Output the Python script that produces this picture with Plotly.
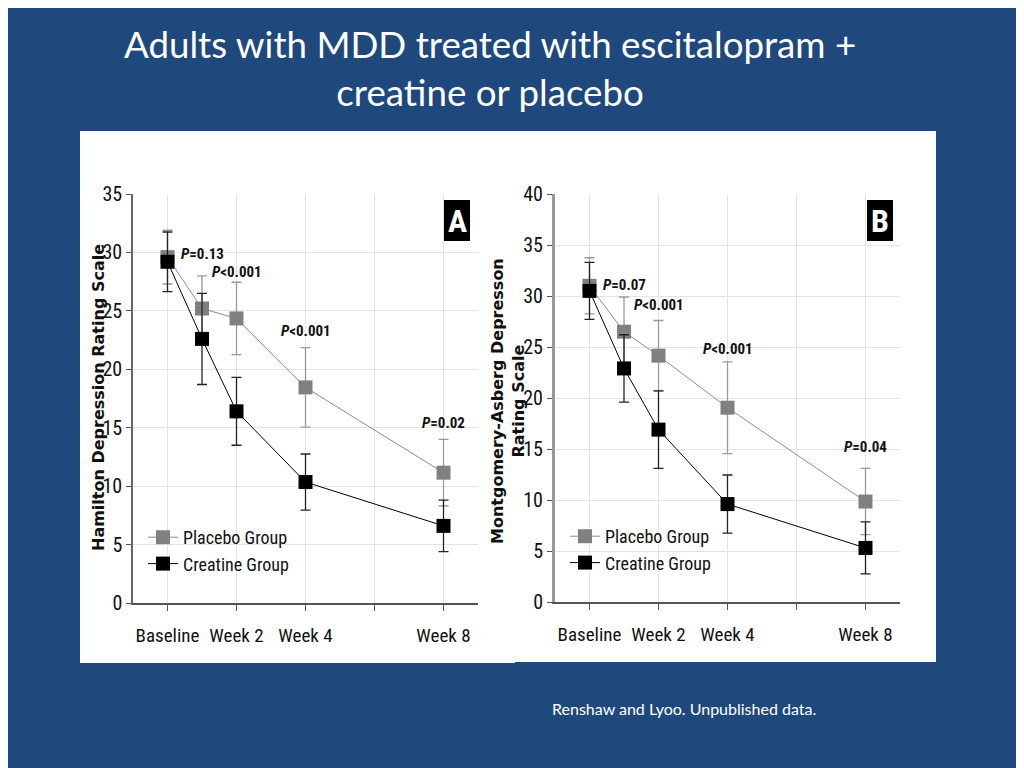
import plotly.graph_objects as go

# ---- data ----
weeks = [0, 1, 2, 4, 8]
tick_weeks = [0, 2, 4, 6, 8]
tick_labels = ['Baseline', 'Week 2', 'Week 4', '', 'Week 8']

# Panel A: Hamilton Depression Rating Scale
ham_placebo = [29.6, 25.2, 24.35, 18.45, 11.15]
ham_placebo_sd = [2.3, 2.8, 3.1, 3.4, 2.85]
ham_creatine = [29.2, 22.6, 16.4, 10.35, 6.6]
ham_creatine_sd = [2.55, 3.9, 2.9, 2.4, 2.2]
ham_p_weeks = [1, 2, 4, 8]
ham_p_text = ['=0.13', '<0.001', '<0.001', '=0.02']
ham_p_y = [29.9, 28.3, 23.3, 15.4]

# Panel B: Montgomery-Asberg Depression Rating Scale
mad_placebo = [31.0, 26.5, 24.15, 19.05, 9.85]
mad_placebo_sd = [2.75, 3.4, 3.45, 4.5, 3.25]
mad_creatine = [30.5, 22.9, 16.9, 9.6, 5.3]
mad_creatine_sd = [2.8, 3.3, 3.8, 2.85, 2.55]
mad_p_weeks = [1, 2, 4, 8]
mad_p_text = ['=0.07', '<0.001', '<0.001', '=0.04']
mad_p_y = [31.1, 29.1, 24.8, 15.2]

BLUE = '#1F497D'
NARROW = 'Roboto Condensed, Liberation Sans, sans-serif'
W, H = 1024, 768
OFF = 8  # the page body adds an 8px margin


def px_x(v):
    return (v - OFF) / W


def px_y(v):
    return 1 - (v - OFF) / H


fig = go.Figure()


def add_group(xa, ya, placebo, p_sd, creatine, c_sd, legend):
    fig.add_trace(go.Scatter(
        x=weeks, y=placebo, name='Placebo Group', xaxis=xa, yaxis=ya, legend=legend,
        mode='lines+markers',
        line=dict(color='#8c8c8c', width=1),
        marker=dict(symbol='square', size=14, color='#808080'),
        error_y=dict(type='data', array=p_sd, visible=True, color='#9a9a9a',
                     thickness=1.3, width=5),
    ))
    fig.add_trace(go.Scatter(
        x=weeks, y=creatine, name='Creatine Group', xaxis=xa, yaxis=ya, legend=legend,
        mode='lines+markers',
        line=dict(color='#000000', width=1),
        marker=dict(symbol='square', size=14, color='#000000'),
        error_y=dict(type='data', array=c_sd, visible=True, color='#222222',
                     thickness=1.3, width=5),
    ))


add_group('x', 'y', ham_placebo, ham_placebo_sd, ham_creatine, ham_creatine_sd, 'legend')
add_group('x2', 'y2', mad_placebo, mad_placebo_sd, mad_creatine, mad_creatine_sd, 'legend2')

xaxis_common = dict(
    range=[-1, 9], tickvals=tick_weeks, ticktext=tick_labels, tickangle=0, automargin=False,
    showgrid=True, gridcolor='#e4e4e4', gridwidth=1, zeroline=False,
    showline=True, linecolor='#555555', linewidth=2,
    ticks='outside', ticklen=6, tickcolor='#555555', ticklabelstandoff=8,
    tickfont=dict(family=NARROW, size=19, color='#111111'),
)
yaxis_common = dict(
    showgrid=True, gridcolor='#e4e4e4', gridwidth=1, zeroline=False, automargin=False,
    showline=True, ticks='outside', ticklen=5, tickcolor='#555555',
    tickfont=dict(family=NARROW, size=20, color='#111111'),
)

legend_common = dict(xanchor='left', yanchor='top', bgcolor='rgba(0,0,0,0)',
                     font=dict(family=NARROW, size=18, color='#111111'), tracegroupgap=4)

fig.update_layout(
    width=W, height=H,
    margin=dict(l=0, r=0, t=0, b=0),
    paper_bgcolor=BLUE, plot_bgcolor='white',
    xaxis=dict(domain=[px_x(133), px_x(478)], anchor='y', **xaxis_common),
    yaxis=dict(domain=[px_y(603), px_y(194)], anchor='x', range=[0, 35], dtick=5,
               linecolor='#666666', linewidth=1.5, **yaxis_common),
    xaxis2=dict(domain=[px_x(555), px_x(900)], anchor='y2', **xaxis_common),
    yaxis2=dict(domain=[px_y(602), px_y(194)], anchor='x2', range=[0, 40], dtick=5,
                linecolor='#999999', linewidth=3, **yaxis_common),
    legend=dict(x=px_x(143), y=px_y(519), **legend_common),
    legend2=dict(x=px_x(565), y=px_y(518), **legend_common),
)

# white chart panels on the slide
fig.add_shape(type='rect', xref='paper', yref='paper', layer='below',
              x0=px_x(80), x1=px_x(515), y0=px_y(663), y1=px_y(131),
              fillcolor='white', line_width=0)
fig.add_shape(type='rect', xref='paper', yref='paper', layer='below',
              x0=px_x(487), x1=px_x(936), y0=px_y(662), y1=px_y(131),
              fillcolor='white', line_width=0)


def note(x, y, text, font, angle=0):
    fig.add_annotation(xref='paper', yref='paper', x=px_x(x), y=px_y(y), text=text,
                       showarrow=False, xanchor='center', yanchor='middle',
                       textangle=angle, align='center', font=font)


# panel letters
for letter, x0, x1 in [('A', 444, 470), ('B', 867, 893)]:
    fig.add_shape(type='rect', xref='paper', yref='paper',
                  x0=px_x(x0), x1=px_x(x1), y0=px_y(241), y1=px_y(200),
                  fillcolor='black', line_width=0)
    note((x0 + x1) / 2, 221, '<b>%s</b>' % letter,
         dict(family=NARROW, size=32, color='white'))

# P values
for xa, ya, wks, txts, ys in [('x', 'y', ham_p_weeks, ham_p_text, ham_p_y),
                              ('x2', 'y2', mad_p_weeks, mad_p_text, mad_p_y)]:
    for wk, t, yv in zip(wks, txts, ys):
        fig.add_annotation(xref=xa, yref=ya, x=wk, y=yv, showarrow=False,
                           text='<b><i>P</i>%s</b>' % t.replace('<', '&lt;'),
                           font=dict(family=NARROW, size=15, color='#111111'))

# y axis titles
note(98, 398, '<b>Hamilton Depression Rating Scale</b>',
     dict(family='DejaVu Sans', size=16, color='#111111'), -90)
note(508, 401, '<b>Montgomery-Asberg Depresson<br>Rating Scale</b>',
     dict(family='DejaVu Sans', size=16, color='#111111'), -90)

# slide title and footnote
note(490, 68, 'Adults with MDD treated with escitalopram +<br>creatine or placebo',
     dict(family='Lato, Open Sans, sans-serif', size=36.7, color='white'))
note(684, 708, 'Renshaw and Lyoo. Unpublished data.',
     dict(family='Lato, Open Sans, sans-serif', size=16, color='white'))

fig.write_html("out.html")
